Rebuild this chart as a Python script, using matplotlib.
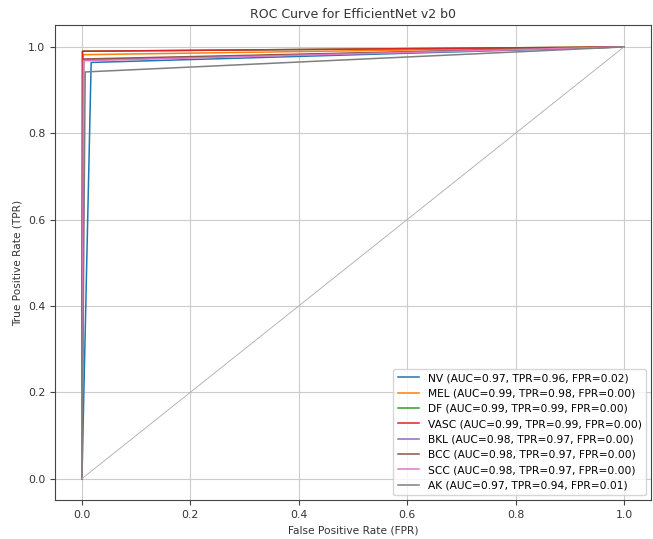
import matplotlib
matplotlib.use("Agg")
import matplotlib.pyplot as plt

classes = ["NV", "MEL", "DF", "VASC", "BKL", "BCC", "SCC", "AK"]
auc_vals = [0.97, 0.99, 0.99, 0.99, 0.98, 0.98, 0.98, 0.97]
tpr_labels = [0.96, 0.98, 0.99, 0.99, 0.97, 0.97, 0.97, 0.94]
fpr_labels = [0.02, 0.00, 0.00, 0.00, 0.00, 0.00, 0.00, 0.01]
# operating point as drawn
fpr_pts = [0.017, 0.002, 0.001, 0.001, 0.003, 0.003, 0.003, 0.006]
tpr_pts = [0.964, 0.982, 0.990, 0.990, 0.970, 0.972, 0.968, 0.942]
colors = ["tab:blue", "tab:orange", "tab:green", "tab:red", "tab:purple",
          "tab:brown", "tab:pink", "tab:gray"]

fig, ax = plt.subplots(figsize=(6.53, 5.39), dpi=100)
fig.subplots_adjust(left=0.084, right=0.997, top=0.953, bottom=0.072)

for c, a, tl, fl, fp, tp, col in zip(classes, auc_vals, tpr_labels, fpr_labels,
                                     fpr_pts, tpr_pts, colors):
    ax.plot([0, fp, 1], [0, tp, 1], color=col, lw=1.1,
            label=f"{c} (AUC={a:.2f}, TPR={tl:.2f}, FPR={fl:.2f})")

ax.plot([0, 1], [0, 1], color="#aaaaaa", lw=0.6)

ax.set_title("ROC Curve for EfficientNet v2 b0", fontsize=9, color="#333333", pad=5)
ax.set_xlabel("False Positive Rate (FPR)", fontsize=7.7, color="#333333")
ax.set_ylabel("True Positive Rate (TPR)", fontsize=7.6, color="#333333")
ax.tick_params(labelsize=7.8, labelcolor="#333333", color="#444444")
for s in ax.spines.values():
    s.set_color("#444444")
ax.grid(True, color="#cccccc", lw=0.8)
ax.legend(loc="lower right", fontsize=7.7)

fig.savefig("out.png", dpi=100)
